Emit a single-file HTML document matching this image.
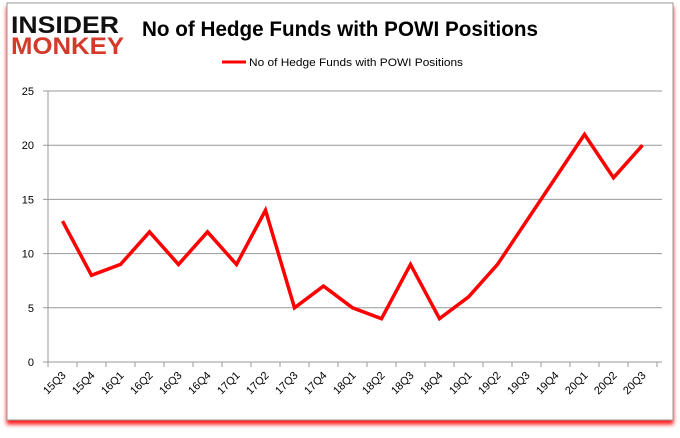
<!DOCTYPE html>
<html><head><meta charset="utf-8"><style>
body{margin:0;background:#fff;width:680px;height:433px;overflow:hidden;font-family:"Liberation Sans",sans-serif}
</style></head><body>
<svg width="680" height="433">
<defs><filter id="sh" x="-5%" y="-5%" width="110%" height="115%"><feDropShadow dx="0" dy="4" stdDeviation="2" flood-color="#f00" flood-opacity="0.9"/></filter></defs>
<rect x="7" y="3" width="666" height="417" fill="#fff" stroke="#999" filter="url(#sh)"/>
<g font-family="Liberation Sans" font-weight="bold">
<text x="11" y="33" font-size="24" fill="#111" textLength="108" lengthAdjust="spacingAndGlyphs">INSIDER</text>
<text x="11" y="54" font-size="24" fill="#d33a2a" textLength="113" lengthAdjust="spacingAndGlyphs">MONKEY</text>
</g>
<text x="142" y="36" font-size="21" font-weight="bold" fill="#000" textLength="396" lengthAdjust="spacingAndGlyphs">No of Hedge Funds with POWI Positions</text>
<line x1="222" y1="62" x2="246" y2="62" stroke="red" stroke-width="3"/>
<text x="249" y="66" font-size="11" fill="#000" textLength="214" lengthAdjust="spacingAndGlyphs">No of Hedge Funds with POWI Positions</text>
<g id="grid"></g><g id="axes"></g>
<polyline id="line" fill="none" stroke="red" stroke-width="3.5" stroke-linejoin="miter"/>
</svg>
<script>
const categories=["15Q3","15Q4","16Q1","16Q2","16Q3","16Q4","17Q1","17Q2","17Q3","17Q4","18Q1","18Q2","18Q3","18Q4","19Q1","19Q2","19Q3","19Q4","20Q1","20Q2","20Q3"];
const values=[13,8,9,12,9,12,9,14,5,7,5,4,9,4,6,9,13,17,21,17,20];
const yTicks=[0,5,10,15,20,25];
const X0=48,X1=657,XG=662,Y0=362,Y1=91,YMAX=25;
const step=(X1-X0)/categories.length;
const xs=i=>X0+step*(i+0.5);
const ys=v=>Y0-(v/YMAX)*(Y0-Y1);
const ns="http://www.w3.org/2000/svg";
const g=document.getElementById('grid'),a=document.getElementById('axes');
function mk(t,at,p){const e=document.createElementNS(ns,t);for(const k in at)e.setAttribute(k,at[k]);p.appendChild(e);return e;}
yTicks.forEach(v=>{
 const l=mk('line',{x1:X0-5,x2:XG,y1:ys(v),y2:ys(v),stroke:'#999','stroke-width':1},g);
 
 
 const t=mk('text',{x:34,y:ys(v)+4,'font-size':11,'text-anchor':'end',fill:'#000'},a);
 t.textContent=v;
 
 
});
const ax=mk('line',{x1:X0,x2:X0,y1:Y1,y2:Y0,stroke:'#999'},a);


for(let i=0;i<=categories.length;i++){
 const x=X0+step*i;
 const tk=mk('line',{x1:x,x2:x,y1:Y0,y2:Y0+5,stroke:'#999'},a);
 
 
}
categories.forEach((c,i)=>{
 const x=xs(i)+4,y=Y0+14;
 const t=mk('text',{x:x,y:y,'font-size':11,'text-anchor':'end',fill:'#000',transform:`rotate(-45 ${x} ${y})`},a);
 t.textContent=c;
 
 
});
document.getElementById('line').setAttribute('points',values.map((v,i)=>xs(i)+','+ys(v)).join(' '));
</script>
</body></html>
